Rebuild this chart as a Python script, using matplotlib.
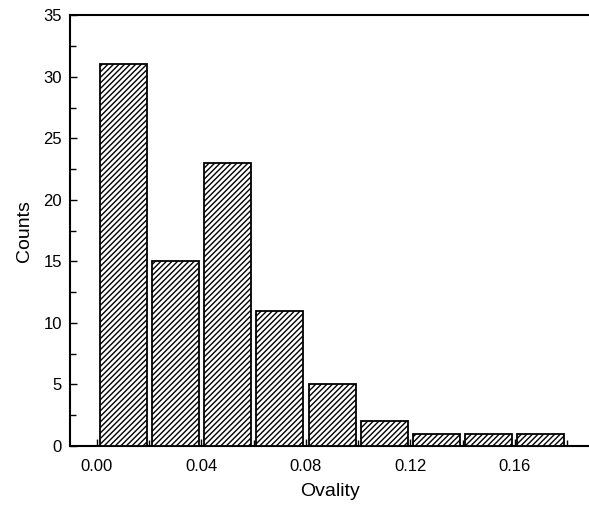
import matplotlib
matplotlib.use("Agg")
import matplotlib.pyplot as plt
from matplotlib.ticker import MultipleLocator

plt.rcParams['font.family'] = ['Liberation Sans', 'DejaVu Sans']
plt.rcParams['hatch.linewidth'] = 1.0

bin_edges = [0.00, 0.02, 0.04, 0.06, 0.08, 0.10, 0.12, 0.14, 0.16, 0.18]
counts = [31, 15, 23, 11, 5, 2, 1, 1, 1]
xtick_vals = [0.00, 0.04, 0.08, 0.12, 0.16]
ytick_vals = [0, 5, 10, 15, 20, 25, 30, 35]

fig = plt.figure(figsize=(5.89, 5.08), dpi=100)
ax = fig.add_axes([0.119, 0.122, 0.881, 0.848])

centers = [(bin_edges[i] + bin_edges[i + 1]) / 2 for i in range(len(counts))]
ax.bar(centers, counts, width=0.018, color='white', edgecolor='black',
       linewidth=1.3, hatch='//////', zorder=3)

ax.set_xlim(-0.0103, 0.1884)
ax.set_ylim(0, 35)
ax.set_xticks(xtick_vals)
ax.set_xticklabels([f"{v:.2f}" for v in xtick_vals])
ax.set_yticks(ytick_vals)
ax.xaxis.set_minor_locator(MultipleLocator(0.02))
ax.yaxis.set_minor_locator(MultipleLocator(2.5))
ax.tick_params(axis='both', which='major', direction='in', length=5, width=1,
               labelsize=12, pad=9)
ax.tick_params(axis='both', which='minor', direction='in', length=4, width=1)
ax.tick_params(axis='y', which='both', pad=6)

for s in ['left', 'bottom', 'top']:
    ax.spines[s].set_linewidth(1.5)
ax.spines['right'].set_visible(False)

ax.set_xlabel('Ovality', fontsize=14, labelpad=7)
ax.set_ylabel('Counts', fontsize=14, labelpad=7)

fig.savefig('out.png', dpi=100)
